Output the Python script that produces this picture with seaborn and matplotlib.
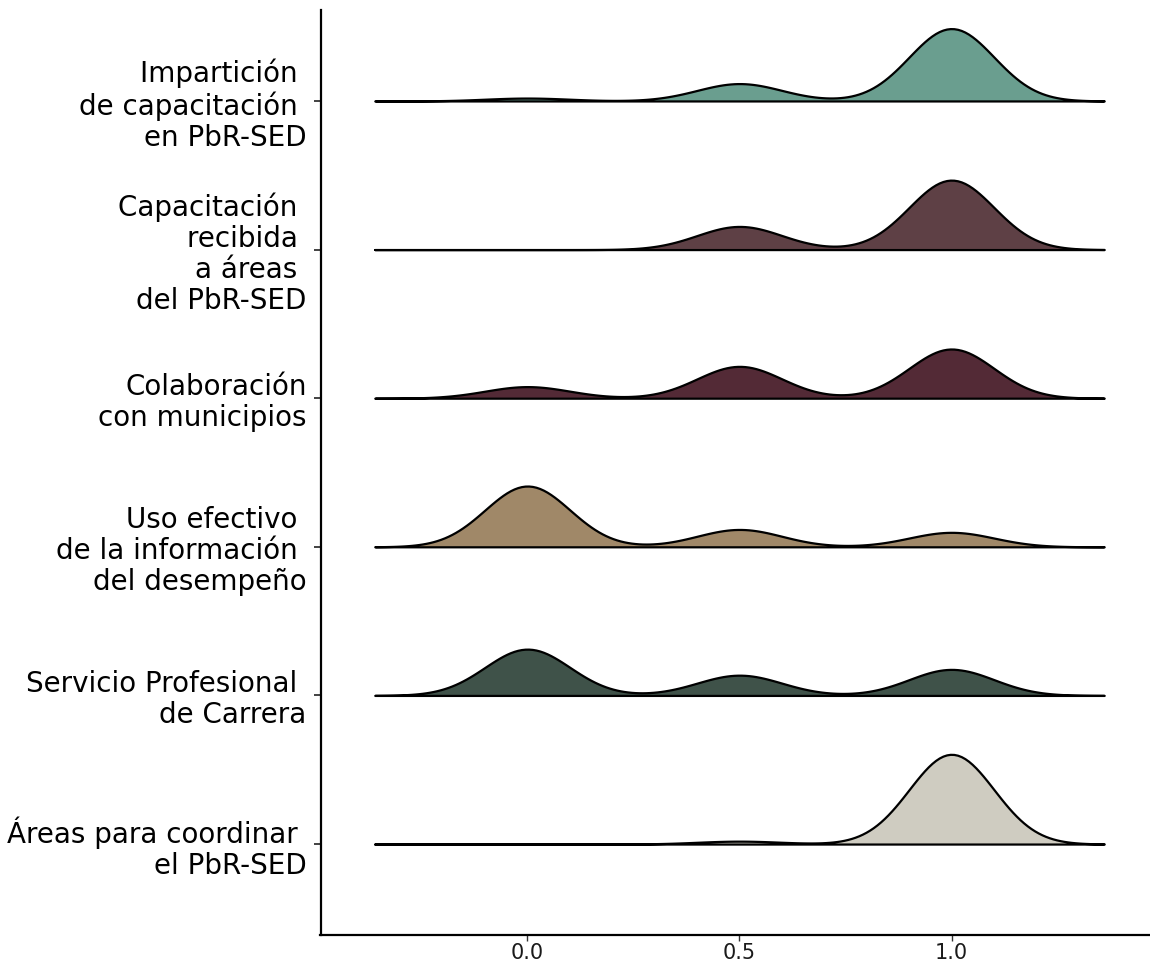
import numpy as np
import seaborn as sns
import matplotlib.pyplot as plt
import matplotlib.transforms as mtransforms

# Valores posibles del indicador y número de entidades (32) en cada valor
valores = [0.0, 0.5, 1.0]

etiquetas = [
    "Impartición \nde capacitación \nen PbR-SED",
    "Capacitación \nrecibida \na áreas \ndel PbR-SED",
    "Colaboración\ncon municipios",
    "Uso efectivo \nde la información \ndel desempeño",
    "Servicio Profesional \nde Carrera",
    "Áreas para coordinar \nel PbR-SED",
]

conteo_imparticion = [1, 6, 25]
conteo_capacitacion = [0, 8, 24]
conteo_municipios = [4, 11, 17]
conteo_uso_info = [21, 6, 5]
conteo_spc = [16, 7, 9]
conteo_areas = [0, 1, 31]

colores = ["#6a9e8f", "#5e4045", "#532a36", "#a08868", "#3f5249", "#cfccc1"]

conteos = [conteo_imparticion, conteo_capacitacion, conteo_municipios,
           conteo_uso_info, conteo_spc, conteo_areas]

BW = 0.10        # ancho de banda común
SEP = 6.4        # separación entre crestas (unidades de densidad)

sns.set_theme(style="ticks")
plt.rcParams["font.family"] = ["DejaVu Sans"]

fig = plt.figure(figsize=(11.5, 9.64), dpi=100)
ax = fig.add_axes([320.5 / 1150, 29 / 964, 829.5 / 1150, 925 / 964])

n = len(etiquetas)
for i, (cnt, col) in enumerate(zip(conteos, colores)):
    base = (n - 1 - i) * SEP
    desv = np.sqrt(np.cov(valores, aweights=cnt))
    tr = mtransforms.Affine2D().translate(0, base) + ax.transData
    sns.kdeplot(x=valores, weights=cnt, bw_method=BW / desv, cut=20,
                clip=(-0.36, 1.36), fill=True, color=col, alpha=1,
                edgecolor="black", linewidth=1.6, ax=ax, transform=tr,
                zorder=10 - i)

ax.set_xlim(-0.488, 1.468)
ax.set_ylim(-0.612 * SEP, (n - 1 + 0.612) * SEP)
ax.set_xticks([0.0, 0.5, 1.0])
ax.set_xticklabels(["0.0", "0.5", "1.0"])
ax.set_yticks([(n - 1 - i) * SEP for i in range(n)])
ax.set_yticklabels(etiquetas, fontsize=20, linespacing=1.13, color="black")
ax.set_xlabel("")
ax.set_ylabel("")

ax.tick_params(axis="x", labelsize=15, length=4, width=1, color="#333333",
               labelcolor="#1a1a1a", pad=2)
ax.tick_params(axis="y", length=5, width=1.2, color="#222222", pad=5)
for s in ["left", "bottom"]:
    ax.spines[s].set_linewidth(1.6)
    ax.spines[s].set_color("black")
sns.despine(ax=ax)

fig.savefig("out.png", dpi=100)
